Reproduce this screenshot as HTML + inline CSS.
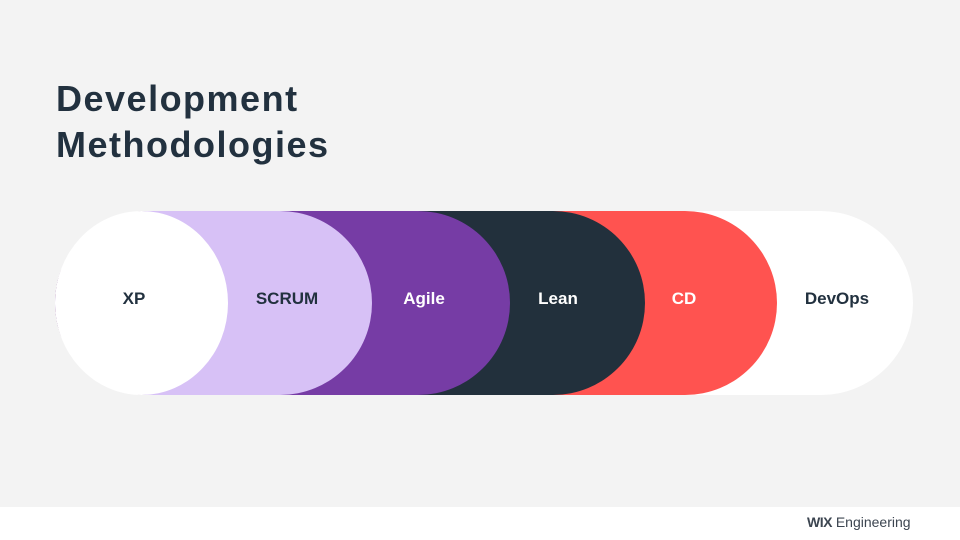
<!DOCTYPE html>
<html><head><style>
html,body{margin:0;padding:0}
body{width:960px;height:540px;background:#f3f3f3;position:relative;overflow:hidden;font-family:"Liberation Sans",sans-serif}
h1{position:absolute;left:56px;top:76px;margin:0;font-size:36px;line-height:46px;font-weight:bold;color:#22313f;letter-spacing:1.5px}
.p{position:absolute;left:55px;top:211px;height:184px;border-radius:92px}
.p span{position:absolute;top:-4px;line-height:184px;font-size:17px;font-weight:bold;transform:translateX(-50%)}
.foot{position:absolute;left:0;top:507px;width:960px;height:33px;background:#fff}
</style></head><body>
<h1>Development<br>Methodologies</h1>
<div class="p" style="width:858px;background:#fff"><span style="left:782px;color:#22313f">DevOps</span></div>
<div class="p" style="width:722px;background:#ff5350"><span style="left:629px;color:#fff">CD</span></div>
<div class="p" style="width:590px;background:#22303c"><span style="left:503px;color:#fff">Lean</span></div>
<div class="p" style="width:455px;background:#763ca5"><span style="left:369px;color:#fff">Agile</span></div>
<div class="p" style="width:317px;background:#d7c1f6"><span style="left:232px;color:#22313f">SCRUM</span></div>
<div class="p" style="width:173px;background:#fff;border-radius:50%"><span style="left:79px;color:#22313f">XP</span></div>
<div class="foot"><div style="position:absolute;left:807px;top:7px;font-size:14px;color:#3c4550"><b style="letter-spacing:-0.5px">WIX</b> Engineering</div></div>
</body></html>
